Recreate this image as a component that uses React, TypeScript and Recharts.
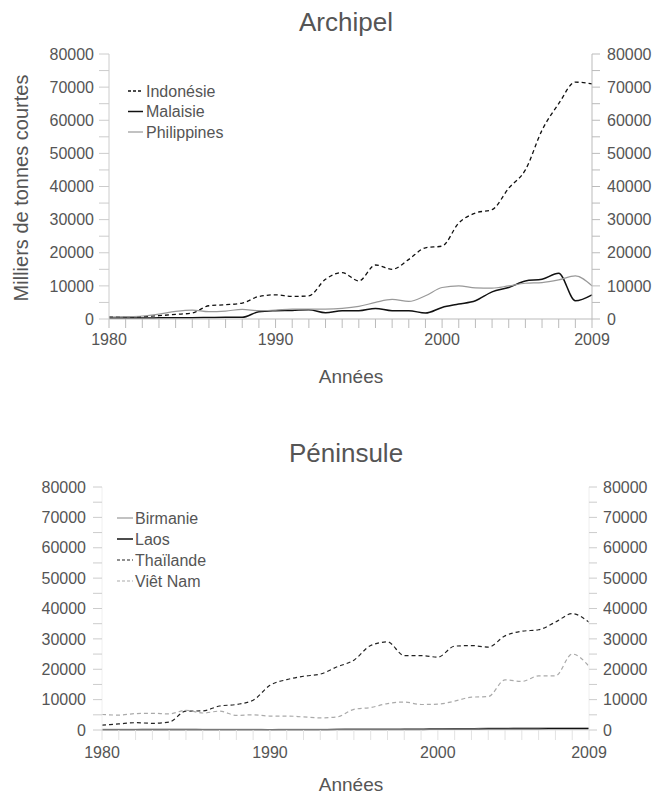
import React from 'react';
import { LineChart, Line, XAxis, YAxis } from 'recharts';

const years = [1980,1981,1982,1983,1984,1985,1986,1987,1988,1989,1990,1991,1992,1993,1994,1995,1996,1997,1998,1999,2000,2001,2002,2003,2004,2005,2006,2007,2008,2009];
const xLabels = [1980, 1990, 2000, 2009];
const yTicks = [0,5000,10000,15000,20000,25000,30000,35000,40000,45000,50000,55000,60000,65000,70000,75000,80000];

// Archipel
const indonesie = [600,600,700,1000,1400,1800,4000,4300,4800,6800,7300,6800,7000,12000,14000,11500,16300,15000,18000,21500,22000,29000,32000,33000,39500,45000,57000,65000,71500,71000];
const malaisie = [300,300,300,350,400,400,450,500,500,2200,2500,2600,2800,1900,2500,2500,3200,2500,2500,1800,3500,4500,5500,8200,9500,11500,12000,13800,5500,7300];
const philippines = [600,700,900,1500,2300,2700,2200,2400,2900,2500,2700,3000,3000,3000,3200,3800,5000,5900,5300,7000,9500,10000,9400,9300,10000,10800,11000,11800,13000,10000];

// Péninsule
const birmanie = [250,250,250,300,300,300,250,250,200,200,150,200,200,250,250,300,300,300,350,400,400,450,500,650,650,700,700,700,700,700];
const laos = [100,100,100,100,100,100,100,100,100,100,100,100,100,100,150,150,150,150,200,200,250,250,250,300,300,350,350,400,400,400];
const thailande = [1600,2000,2400,2200,2600,6200,6300,7900,8400,9800,14700,16600,17700,18400,20800,23000,27800,29000,24500,24500,24000,27600,27800,27300,31000,32500,33000,35500,38300,35500];
const vietnam = [5100,4900,5400,5500,5300,6500,5600,6200,4800,5000,4600,4600,4300,4000,4300,6800,7400,8700,9200,8400,8500,9500,10800,11000,16500,16000,17800,17800,25000,21000];

const topData = years.map((y, i) => ({ year: y, indonesie: indonesie[i], malaisie: malaisie[i], philippines: philippines[i] }));
const botData = years.map((y, i) => ({ year: y, birmanie: birmanie[i], laos: laos[i], thailande: thailande[i], vietnam: vietnam[i] }));

const FONT = '"Liberation Sans", Arial, sans-serif';
const TXT = '#555';

const topSeries = [
  { key: 'indonesie', name: 'Indonésie', color: '#111', dash: '4 3', width: 1.3 },
  { key: 'malaisie', name: 'Malaisie', color: '#111', dash: undefined, width: 1.5 },
  { key: 'philippines', name: 'Philippines', color: '#999', dash: undefined, width: 1.2 },
];
const botSeries = [
  { key: 'birmanie', name: 'Birmanie', color: '#999', dash: undefined, width: 1.2 },
  { key: 'laos', name: 'Laos', color: '#111', dash: undefined, width: 1.5 },
  { key: 'thailande', name: 'Thaïlande', color: '#222', dash: '4 3', width: 1.2 },
  { key: 'vietnam', name: 'Viêt Nam', color: '#aaa', dash: '4 3', width: 1.2 },
];

const xFmt = (v: number) => (xLabels.includes(v) ? String(v) : '');
const yFmt = (v: number) => (v % 10000 === 0 ? String(v) : '');
const tickStyle = { fill: TXT, fontSize: 16, fontFamily: FONT };

export default function App() {
  return (
    <div style={{ position: 'absolute', left: 0, top: 0, width: 654, height: 796, background: '#fff', fontFamily: FONT }}>
      <div style={{ position: 'absolute', left: 0, top: 0 }}>
        <LineChart width={654} height={400} data={topData} margin={{ top: 54, right: 0, bottom: 0, left: 0 }}>
          <XAxis dataKey="year" type="number" domain={[1980, 2009]} ticks={years} interval={0} tickFormatter={xFmt}
            height={81} tickSize={9} tickMargin={6} stroke="#bbb" tick={tickStyle} />
          <YAxis yAxisId="left" type="number" domain={[0, 80000]} ticks={yTicks} interval={0} tickFormatter={yFmt}
            width={109} tickSize={10} tickMargin={5} stroke="#ccc" tick={tickStyle} />
          <YAxis yAxisId="right" orientation="right" type="number" domain={[0, 80000]} ticks={yTicks} interval={0} tickFormatter={yFmt}
            width={62} tickSize={8} tickMargin={7} stroke="#bbb" tick={{ ...tickStyle, textAnchor: 'start' }} />
          <Line yAxisId="right" type="monotone" dataKey="indonesie" stroke="none" strokeOpacity={0} dot={false} legendType="none" isAnimationActive={false} />
          {topSeries.map(s => (
            <Line key={s.key} yAxisId="left" type="monotone" dataKey={s.key} stroke={s.color} strokeWidth={s.width}
              strokeDasharray={s.dash} dot={false} isAnimationActive={false} />
          ))}
        </LineChart>
      </div>
      <div style={{ position: 'absolute', left: 0, top: 400 }}>
        <LineChart width={654} height={396} data={botData} margin={{ top: 87, right: 0, bottom: 0, left: 0 }}>
          <XAxis dataKey="year" type="number" domain={[1980, 2009]} ticks={years} interval={0} tickFormatter={xFmt}
            height={66} tickSize={10} tickMargin={7} stroke="#e2e2e2" tick={tickStyle} />
          <YAxis yAxisId="left" type="number" domain={[0, 80000]} ticks={yTicks} interval={0} tickFormatter={yFmt}
            width={102} tickSize={9} tickMargin={7} stroke="#f0f0f0" tickLine={{ stroke: '#ccc' }} tick={tickStyle} />
          <YAxis yAxisId="right" orientation="right" type="number" domain={[0, 80000]} ticks={yTicks} interval={0} tickFormatter={yFmt}
            width={65} tickSize={8} tickMargin={6} stroke="#eee" tickLine={{ stroke: '#ccc' }} tick={{ ...tickStyle, textAnchor: 'start' }} />
          <Line yAxisId="right" type="monotone" dataKey="thailande" stroke="none" strokeOpacity={0} dot={false} legendType="none" isAnimationActive={false} />
          {botSeries.map(s => (
            <Line key={s.key} yAxisId="left" type="monotone" dataKey={s.key} stroke={s.color} strokeWidth={s.width}
              strokeDasharray={s.dash} dot={false} isAnimationActive={false} />
          ))}
        </LineChart>
      </div>
      <svg width={654} height={796} style={{ position: 'absolute', left: 0, top: 0, pointerEvents: 'none' }}>
        <g fontFamily={FONT} fill={TXT}>
          <text x={346} y={31} fontSize={26} textAnchor="middle">Archipel</text>
          <text x={351} y={383} fontSize={19} textAnchor="middle">Années</text>
          <text transform="translate(28,188) rotate(-90)" fontSize={20} textAnchor="middle">Milliers de tonnes courtes</text>
          <text x={346} y={462} fontSize={26} textAnchor="middle">Péninsule</text>
          <text x={351} y={791} fontSize={19} textAnchor="middle">Années</text>
          {topSeries.map((s, i) => (
            <g key={s.key}>
              <line x1={128} x2={143} y1={91 + i * 20.5} y2={91 + i * 20.5} stroke={s.color} strokeWidth={s.width} strokeDasharray={s.dash ? '3 2' : undefined} />
              <text x={146} y={91 + i * 20.5 + 5.5} fontSize={16}>{s.name}</text>
            </g>
          ))}
          {botSeries.map((s, i) => (
            <g key={s.key}>
              <line x1={117} x2={133} y1={518 + i * 21} y2={518 + i * 21} stroke={s.color} strokeWidth={s.width} strokeDasharray={s.dash ? '3 2' : undefined} />
              <text x={135} y={518 + i * 21 + 5.5} fontSize={16}>{s.name}</text>
            </g>
          ))}
        </g>
      </svg>
    </div>
  );
}
